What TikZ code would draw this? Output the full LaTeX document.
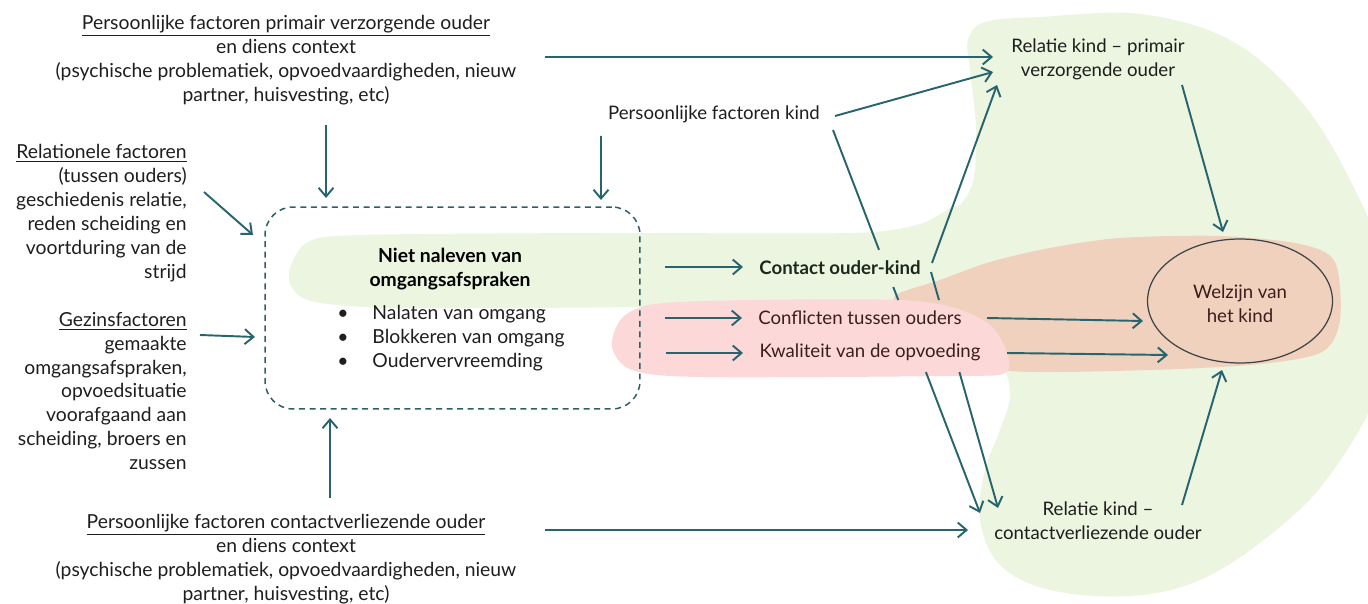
\documentclass[tikz,border=0pt]{standalone}
\usepackage{fontspec}
\setmainfont{Lato}
\usetikzlibrary{arrows.meta,calc,shapes.geometric}
\definecolor{greenbg}{RGB}{235,245,224}
\definecolor{peachbg}{RGB}{240,209,189}
\definecolor{pinkbg}{RGB}{253,216,216}
\definecolor{arrcol}{RGB}{40,100,110}
\definecolor{boxcol}{RGB}{46,94,104}
\definecolor{txtdark}{RGB}{30,30,30}
\definecolor{txtred}{RGB}{58,30,30}
\definecolor{txtgreen}{RGB}{28,40,28}
\definecolor{ellcol}{RGB}{60,68,72}
\begin{document}
\begin{tikzpicture}[x=0.02cm,y=-0.02cm,
  lt/.style={inner sep=0pt, text=txtdark, font=\fontsize{11}{13.6}\selectfont},
  rt/.style={inner sep=0pt, text=txtdark, font=\fontsize{10.6}{13.6}\selectfont},
  bt/.style={inner sep=0pt, text=black, font=\fontsize{11}{13.6}\selectfont\bfseries},
  arr/.style={draw=arrcol, line width=1.1pt, -{Straight Barb[length=5pt,width=8.5pt,line width=1.1pt]}},
  plain/.style={draw=arrcol, line width=1.1pt},
  dbox/.style={draw=boxcol, line width=0.85pt, dash pattern=on 3.4pt off 2.6pt, rounded corners=0.56cm, minimum width=7.5cm, minimum height=4.04cm, inner sep=0pt}
]
\useasboundingbox (0,0) rectangle (1368,604);
\begin{scope}
\clip (0,0) rectangle (1368,604);
% big green blob right
\fill[greenbg] plot[smooth cycle, tension=0.6] coordinates {
 (968,40) (985,22) (1040,17) (1140,14) (1230,40) (1300,100) (1350,180) (1380,260)
 (1380,380) (1330,475) (1270,535) (1200,580) (1130,596) (1050,590) (1000,565)
 (980,520) (985,470) (1000,430) (1010,395) (1000,360) (960,300) (948,230)
 (972,185) (976,130) (970,70)};
% green band
\fill[greenbg] plot[smooth cycle, tension=0.5] coordinates {
 (290,268) (308,242) (360,235) (600,233) (850,233) (920,224) (960,205) (1010,215)
 (1010,300) (900,302) (640,307) (400,308) (315,302) (292,288)};
% peach band
\fill[peachbg] plot[smooth cycle, tension=0.5] coordinates {
 (895,296) (940,280) (990,262) (1050,248) (1120,238) (1220,236) (1300,244) (1335,262)
 (1340,320) (1322,352) (1260,364) (1150,370) (1010,371) (960,352) (905,318)};
% pink band
\fill[pinkbg] plot[smooth cycle, tension=0.5] coordinates {
 (612,347) (622,318) (655,304) (750,300) (900,300) (955,308) (990,325) (1006,350)
 (1005,373) (950,376) (700,377) (632,370)};
\end{scope}

% left texts
\node[lt, align=center] (ptop) at (286,60) {\underline{Persoonlijke factoren primair verzorgende ouder}\\en diens context\\(psychische problematiek, opvoedvaardigheden, nieuw\\partner, huisvesting, etc)};
\node[lt, align=right, anchor=east] (rel) at (187,213) {\underline{Relationele factoren}\\(tussen ouders)\\geschiedenis relatie,\\reden scheiding en\\voortduring van de\\strijd};
\node[lt, align=right, anchor=east] (gez) at (187,391) {\underline{Gezinsfactoren}\\gemaakte\\omgangsafspraken,\\opvoedsituatie\\voorafgaand aan\\scheiding, broers en\\zussen};
\node[lt, align=center] (pbot) at (286,559) {\underline{Persoonlijke factoren contactverliezende ouder}\\en diens context\\(psychische problematiek, opvoedvaardigheden, nieuw\\partner, huisvesting, etc)};

% central box
\node[dbox] (box) at (452.5,308) {};
\node[bt, align=center] (niet) at (450,269) {Niet naleven van\\omgangsafspraken};
\node[lt, align=left, anchor=west] (list) at (337,338) {\makebox[20pt][l]{\textbullet}Nalaten van omgang\\\makebox[20pt][l]{\textbullet}Blokkeren van omgang\\\makebox[20pt][l]{\textbullet}Oudervervreemding};

% middle texts
\node[rt] (kind) at (714,114) {Persoonlijke factoren kind};
\node[rt, font=\fontsize{10.6}{13.6}\selectfont\bfseries, text=txtgreen] (contact) at (840,268) {Contact ouder-kind};
\node[rt, text=txtred] (conflict) at (860,318) {Conflicten tussen ouders};
\node[rt, text=txtred] (kwal) at (870,352) {Kwaliteit van de opvoeding};

% right texts
\node[rt, align=center] (rprim) at (1098,59) {Relatie kind – primair\\verzorgende ouder};
\node[rt, align=center] (rcv) at (1098,521) {Relatie kind –\\contactverliezende ouder};
\node[ellipse, draw=ellcol, line width=0.7pt, minimum width=3.7cm, minimum height=2.48cm, inner sep=0pt] (welz) at (1240,301) {};
\node[rt, align=center, text=txtred] (welzt) at (1240,304) {Welzijn van\\het kind};

% arrows into central box
\draw[arr] ($(ptop.center)+(40,65)$) -- ($(box.center)+(-126.5,-110)$);
\draw[arr] ($(kind.center)+(-113,22)$) -- ($(box.center)+(148.5,-108)$);
\draw[arr] ($(rel.east)+(17,-21)$) -- ($(box.center)+(-199.5,-73)$);
\draw[arr] ($(gez.east)+(13,-56)$) -- ($(box.center)+(-197.5,29)$);
\draw[arr] ($(pbot.center)+(44,-61)$) -- ($(box.center)+(-122.5,110)$);

% arrows out of central box
\draw[arr] ($(box.center)+(212.5,-41)$) -- ($(contact.center)+(-97,-1)$);
\draw[arr] ($(box.center)+(212.5,10)$) -- ($(conflict.center)+(-118,0)$);
\draw[arr] ($(box.center)+(213.5,45)$) -- ($(kwal.center)+(-127,1)$);

% arrows into relatie primair
\draw[arr] ($(ptop.center)+(259,-3)$) -- ($(rprim.center)+(-105,-2)$);
\draw[arr] ($(kind.center)+(121,2)$) -- ($(rprim.center)+(-105,13)$);
\draw[arr] ($(contact.center)+(92,-5)$) -- ($(rprim.center)+(-101,26)$);

% arrows into relatie contactverliezend
\draw[arr] ($(pbot.center)+(259,-29)$) -- ($(rcv.center)+(-130,9)$);
\coordinate (k1) at ($(kind.center)+(119,16)$);
\coordinate (k2) at ($(rcv.center)+(-118,-8)$);
\draw[plain] (k1) -- ($(k1)!0.313!(k2)$);
\draw[plain] ($(k1)!0.41!(k2)$) -- ($(k1)!0.444!(k2)$);
\draw[arr] ($(k1)!0.632!(k2)$) -- (k2);
\coordinate (c1) at ($(contact.center)+(91,4)$);
\coordinate (c2) at ($(rcv.center)+(-100,-13)$);
\draw[plain] (c1) -- ($(c1)!0.119!(c2)$);
\draw[arr] ($(c1)!0.424!(c2)$) -- (c2);

% arrows into welzijn
\draw[arr] ($(rprim.center)+(84,26)$) -- ($(welz.center)+(-17,-69)$);
\draw[arr] ($(conflict.center)+(127,0)$) -- ($(welz.center)+(-97,20)$);
\draw[arr] ($(kwal.center)+(137,1)$) -- ($(welz.center)+(-72,54)$);
\draw[arr] ($(rcv.center)+(84,-16)$) -- ($(welz.center)+(-18,69)$);
\end{tikzpicture}
\end{document}
